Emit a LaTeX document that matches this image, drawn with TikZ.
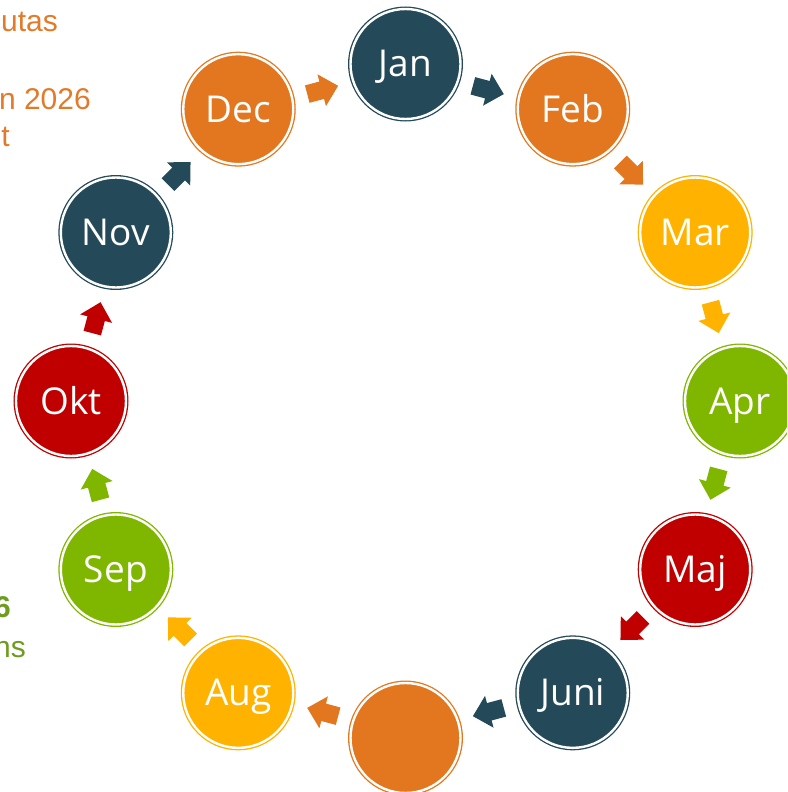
\documentclass[tikz,border=0pt]{standalone}
\usepackage{fontspec}
\setmainfont{Open Sans}
\newfontfamily\notefont{Liberation Sans}

\definecolor{mTeal}{HTML}{244A5A}
\definecolor{mOrange}{HTML}{E27720}
\definecolor{mYellow}{HTML}{FFB300}
\definecolor{mGreen}{HTML}{7FB700}
\definecolor{mRed}{HTML}{C00000}
\definecolor{noteOrange}{HTML}{E27A2A}
\definecolor{noteGreen}{HTML}{6E9C1E}

\tikzset{
  month/.style={circle, fill=#1, draw=#1, double=white, double distance=2.4pt,
    line width=1.3pt, minimum size=110pt, inner sep=0pt, text=white,
    text height=26pt, text depth=0pt,
    font=\fontsize{37}{40}\selectfont},
  blockarrow/.pic={
    \fill[#1] (-16,-9) -- (-1,-9) -- (-1,-16.5) -- (16,0) -- (-1,16.5)
      -- (-1,9) -- (-16,9) -- cycle;
  },
  note/.style={anchor=base east, inner sep=0pt, text=#1,
    font=\notefont\fontsize{30}{36}\selectfont},
}

\begin{document}
\begin{tikzpicture}[x=1pt, y=1pt]
  \useasboundingbox (0,0) rectangle (787,-792);
  \clip (0,0) rectangle (787,-792);

  % notes at the left edge
  \node[note=noteOrange] (n1) at (58,-32) {utas};
  \node[note=noteOrange] (n2) at (91,-109) {n 2026};
  \node[note=noteOrange] (n3) at (10,-146) {t};
  \node[note=noteGreen, font=\notefont\bfseries\fontsize{30}{36}\selectfont] (n4) at (11,-617) {6};
  \node[note=noteGreen] (n5) at (26,-657) {ns};

  % the twelve months round the year
  \foreach \name/\lbl/\col [count=\i from 0] in {
      jan/Jan/mTeal, feb/Feb/mOrange, mar/Mar/mYellow, apr/Apr/mGreen,
      maj/Maj/mRed, juni/Juni/mTeal, juli//mOrange, aug/Aug/mYellow,
      sep/Sep/mGreen, okt/Okt/mRed, nov/Nov/mTeal, dec/Dec/mOrange}
    \node[month=\col] (\name) at ({405.5+334.5*sin(30*\i)}, {-401+337*cos(30*\i)}) {\lbl};

  % block arrows from each month to the next, clockwise
  \foreach \col [count=\i from 0] in {
      mTeal, mOrange, mYellow, mGreen, mRed, mTeal,
      mOrange, mYellow, mGreen, mRed, mTeal, mOrange}
    \pic[rotate={-30*\i-15}] at ({405.5+320*sin(30*\i+15)}, {-401+322*cos(30*\i+15)}) {blockarrow=\col};
\end{tikzpicture}
\end{document}
